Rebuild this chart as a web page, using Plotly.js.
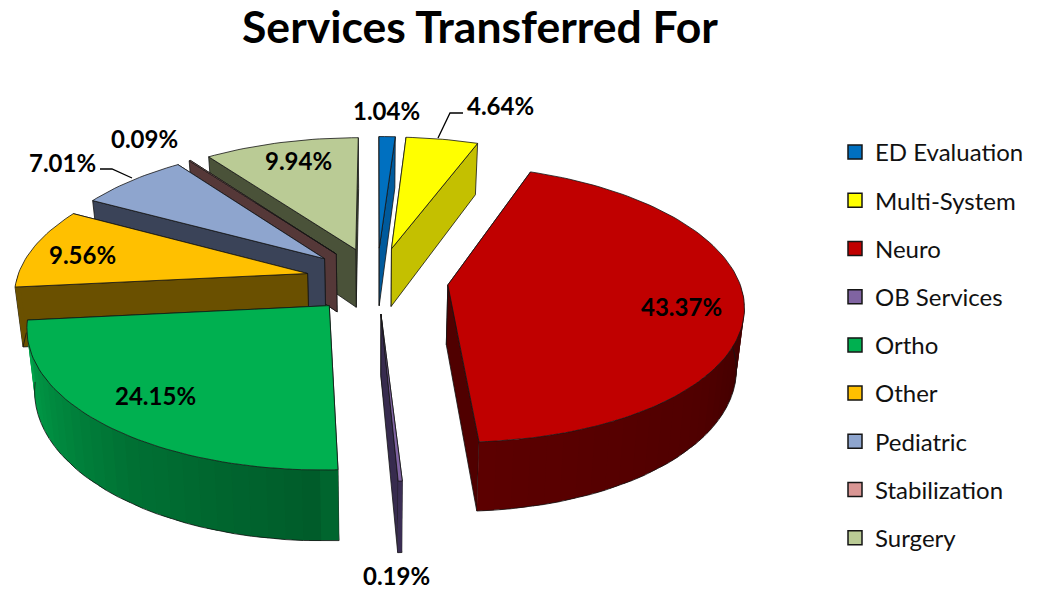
<!DOCTYPE html>
<html><head><meta charset="utf-8">
<script src="https://cdn.plot.ly/plotly-3.0.1.min.js"></script>
<style>html,body{margin:0;padding:0;background:#fff}#c{width:1040px;height:590px}</style>
</head><body><div id="c"></div>
<script>
const categories=['ED Evaluation','Multi-System','Neuro','OB Services','Ortho','Other','Pediatric','Stabilization','Surgery'];
const shares=[1.04,4.64,43.37,0.19,24.15,9.56,7.01,0.09,9.94];
const topColors=['#0070C0','#FFFF00','#C00000','#8064A2','#00B050','#FFC000','#8EA5CE','#D99694','#BACB95'];
const wallColors=['#005A9C','#C4C000','#500000','#372B4E','#006B31','#6A5000','#3A4358','#553838','#4A5239'];
const labelPos=[[386,110],[500,105.5],[681,306],[396,575],[155,395],[82,254],[62,162],[144,138],[298,160]];
const leaders=[{x:[438,450,463],y:[138,113,113]},{x:[132,112,100],y:[178,169,169]}];

// projection of the tilted, exploded disc onto the page (page pixels = axis units)
const K=0.135,F=291,G=134.6,X0=377,Y0=280,DEPTH=59.5,PULL=0.245;
function proj(u,v,z){const w=1+K*v;return [X0+F*u/w*(1-0.022*z),Y0-G*v/w+DEPTH*z/w];}
const rad=d=>d*Math.PI/180;
const total=shares.reduce((a,b)=>a+b,0);
let acc=0;
const slices=shares.map((s,i)=>{const a0=acc/total*360;acc+=s;const a1=acc/total*360;const m=(a0+a1)/2;
  return {i,a0,a1,m,ou:PULL*Math.sin(rad(m)),ov:PULL*Math.cos(rad(m))};});
const rimPt=(s,a,z)=>proj(s.ou+Math.sin(rad(a)),s.ov+Math.cos(rad(a)),z);
const apexPt=(s,z)=>proj(s.ou,s.ov,z);
const hex=c=>[1,3,5].map(i=>parseInt(c.substr(i,2),16));
function shade(c,f){return 'rgb('+hex(c).map(v=>Math.min(255,Math.round(v*f))).join(',')+')';}
// brightness of the curved wall vs angle, brighter towards the left
function wallFactor(a){
  const stops=[[90,0.72],[130,1.0],[176,1.15],[180,0.85],[215,1.05],[264,1.55],[264.01,1],[360,1]];
  for(let j=1;j<stops.length;j++){if(a<=stops[j][0]){const p=stops[j-1],q=stops[j];return p[1]+(q[1]-p[1])*(a-p[0])/(q[0]-p[0]);}}
  return 1;
}
const traces=[];
const EDGE='#141414';
function poly(pts,fill,lineColor,w){
  traces.push({type:'scatter',mode:'lines',x:pts.map(p=>p[0]).concat(pts[0][0]),y:pts.map(p=>p[1]).concat(pts[0][1]),
    fill:'toself',fillcolor:fill,line:{color:lineColor,width:w},hoverinfo:'skip',showlegend:false});
}
function radialWall(s,a){poly([apexPt(s,0),rimPt(s,a,0),rimPt(s,a,1),apexPt(s,1)],wallColors[s.i],EDGE,0.8);}
const paintOrder=[0,1,8,7,6,5,2,4,3];
paintOrder.forEach(idx=>{
  const s=slices[idx];
  const walls=[s.a0,s.a1].sort((p,q)=>(s.ov+Math.cos(rad(q)))-(s.ov+Math.cos(rad(p))));
  walls.forEach(a=>radialWall(s,a));
  const from=Math.max(s.a0,90),to=Math.min(s.a1,270);
  if(to>from){
    const STEP=3,n=Math.max(1,Math.ceil((to-from)/STEP));
    for(let j=0;j<n;j++){
      const a=from+(to-from)*j/n,b=Math.min(to,from+(to-from)*(j+1)/n+2);
      const col=shade(wallColors[s.i],wallFactor(from+(to-from)*(j+0.5)/n));
      poly([rimPt(s,a,0),rimPt(s,(a+b)/2,0),rimPt(s,b,0),rimPt(s,b,1),rimPt(s,(a+b)/2,1),rimPt(s,a,1)],col,col,0);
    }
    const outline=[];
    for(let j=0;j<=n;j++)outline.push(rimPt(s,from+(to-from)*j/n,1));
    traces.push({type:'scatter',mode:'lines',x:outline.map(p=>p[0]),y:outline.map(p=>p[1]),line:{color:EDGE,width:0.8},hoverinfo:'skip',showlegend:false});
  }
  const top=[apexPt(s,0)];
  const n=Math.max(2,Math.ceil((s.a1-s.a0)/1.5));
  for(let j=0;j<=n;j++)top.push(rimPt(s,s.a0+(s.a1-s.a0)*j/n,0));
  poly(top,topColors[s.i],EDGE,0.8);
});
leaders.forEach(l=>traces.push({type:'scatter',mode:'lines',x:l.x,y:l.y,line:{color:'#000',width:1.3},hoverinfo:'skip',showlegend:false}));
categories.forEach((c,i)=>traces.push({type:'scatter',mode:'markers',x:[null],y:[null],name:c,legendgroup:c,legendrank:i+1,
  marker:{symbol:'square',size:14,color:topColors[i],line:{color:'#151515',width:1.5}},hoverinfo:'skip',showlegend:true}));

const annotations=shares.map((v,i)=>({x:labelPos[i][0],y:labelPos[i][1],xref:'x',yref:'y',showarrow:false,
  text:'<b>'+v.toFixed(2)+'%</b>',xanchor:'center',yanchor:'middle',font:{family:'Lato, Carlito, sans-serif',size:24,color:'#000'}}));

Plotly.newPlot('c',traces,{
  width:1040,height:590,margin:{l:0,r:0,t:0,b:0,pad:0},paper_bgcolor:'#fff',plot_bgcolor:'#fff',
  title:{text:'<b>Services Transferred For</b>',x:480/1040,xanchor:'center',y:1-27/590,yanchor:'middle',font:{family:'Lato, Carlito, sans-serif',size:44.5,color:'#000'}},
  xaxis:{range:[0,1040],visible:false,fixedrange:true,domain:[0,1]},
  yaxis:{range:[590,0],visible:false,fixedrange:true,domain:[0,1]},
  legend:{x:835/1040,xanchor:'left',y:1-130/590,yanchor:'top',tracegroupgap:14,bgcolor:'rgba(0,0,0,0)',
    font:{family:'Lato, Carlito, sans-serif',size:24,color:'#111'},itemwidth:30},
  annotations,showlegend:true,hovermode:false
},{displayModeBar:false,staticPlot:true});
</script></body></html>
